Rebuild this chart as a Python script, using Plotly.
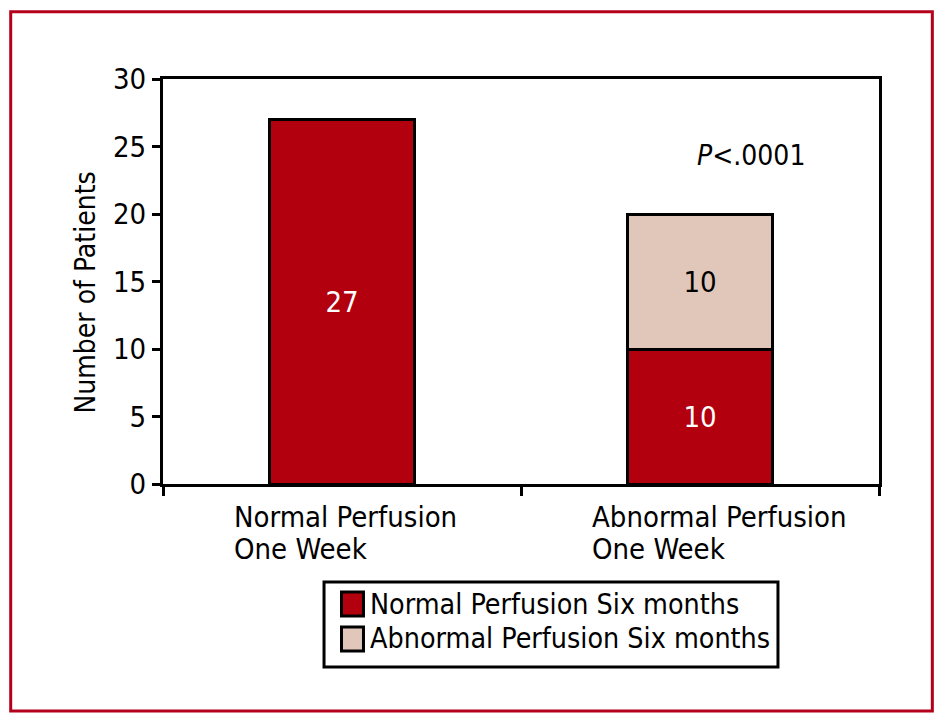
import plotly.graph_objects as go

categories = ["Normal Perfusion<br>One Week", "Abnormal Perfusion<br>One Week"]
normal_six_months = [27, 10]
abnormal_six_months = [None, 10]
series_names = ["Normal Perfusion Six months", "Abnormal Perfusion Six months"]
y_ticks = [0, 5, 10, 15, 20, 25, 30]
y_title = "Number of Patients"
p_text = "<i>P</i>&lt;.0001"

RED = "#b2000e"
BEIGE = "#e0c7ba"
FRAME = "#b5001c"
FONT = "DejaVu Sans Condensed, Liberation Sans Narrow, Arial Narrow, sans-serif"
FS = 29

fig = go.Figure()
fig.add_trace(go.Bar(
    x=categories, y=normal_six_months, name=series_names[0],
    marker=dict(color=RED, line=dict(color="black", width=3)),
    width=0.405, texttemplate="%{y}",
    textposition="inside", insidetextanchor="middle",
    textfont=dict(color="white", size=FS, family=FONT),
    showlegend=False,
))
fig.add_trace(go.Bar(
    x=categories, y=abnormal_six_months, name=series_names[1],
    marker=dict(color=BEIGE, line=dict(color="black", width=3)),
    width=0.405, texttemplate="%{y}",
    textposition="inside", insidetextanchor="middle",
    textfont=dict(color="black", size=FS, family=FONT),
    showlegend=False,
))

annotations = []
# category labels, left-aligned lines under each category
line_y = [-0.0820, -0.1610]
for c in categories:
    for i, line in enumerate(c.split("<br>")):
        annotations.append(dict(
            x=c, xref="x", y=line_y[i], yref="paper", text=line, showarrow=False,
            xanchor="left", yanchor="middle", xshift=-110,
            font=dict(size=FS, family=FONT, color="black")))
# y-axis title
annotations.append(dict(x=-0.1089, xref="paper", y=0.4728, yref="paper",
                        text=y_title, textangle=-90, showarrow=False,
                        xanchor="center", yanchor="middle",
                        font=dict(size=28, family=FONT, color="black")))
# p-value
annotations.append(dict(x=0.821, xref="paper", y=24.3, yref="y", text=p_text,
                        showarrow=False, xanchor="center", yanchor="middle",
                        font=dict(size=28, family=FONT, color="black")))

# legend (box, swatches, labels)
legend_colors = [RED, BEIGE]
sw_y = [(-0.3259, -0.2667), (-0.4123, -0.3531)]
txt_y = [-0.2963, -0.3827]
shapes = [
    dict(type="rect", xref="paper", yref="paper",
         x0=-0.2127, x1=1.0745, y0=-0.5605, y1=1.1662,
         line=dict(color=FRAME, width=3), fillcolor="rgba(0,0,0,0)", layer="below"),
    dict(type="rect", xref="paper", yref="paper",
         x0=0.2249, x1=0.8589, y0=-0.4519, y1=-0.2420,
         line=dict(color="black", width=3), fillcolor="white", layer="above"),
]
for i, name in enumerate(series_names):
    shapes.append(dict(type="rect", xref="paper", yref="paper",
                       x0=0.2493, x1=0.2800, y0=sw_y[i][0], y1=sw_y[i][1],
                       line=dict(color="black", width=3), fillcolor=legend_colors[i],
                       layer="above"))
    annotations.append(dict(x=0.2870, xref="paper", y=txt_y[i], yref="paper",
                            text=name, showarrow=False, xanchor="left",
                            yanchor="middle",
                            font=dict(size=28.4, family=FONT, color="black")))

fig.update_layout(
    width=939, height=717,
    margin=dict(l=155, r=68, t=71, b=241, pad=0),
    paper_bgcolor="white", plot_bgcolor="white",
    barmode="stack",
    font=dict(family=FONT, size=FS, color="black"),
    showlegend=False,
    annotations=annotations,
    shapes=shapes,
)
fig.update_xaxes(
    type="category", showticklabels=False, tickson="boundaries",
    ticks="outside", ticklen=9, tickwidth=3, tickcolor="black",
    showline=True, linecolor="black", linewidth=3, mirror=True,
    showgrid=False, zeroline=False,
)
fig.update_yaxes(
    range=[0, 30], tickvals=y_ticks, ticks="outside", ticklen=8, tickwidth=3,
    tickcolor="black", showline=True, linecolor="black", linewidth=3,
    mirror=True, showgrid=False, zeroline=False,
    tickfont=dict(size=FS, family=FONT), ticklabelstandoff=0,
)

fig.write_html("out.html")
